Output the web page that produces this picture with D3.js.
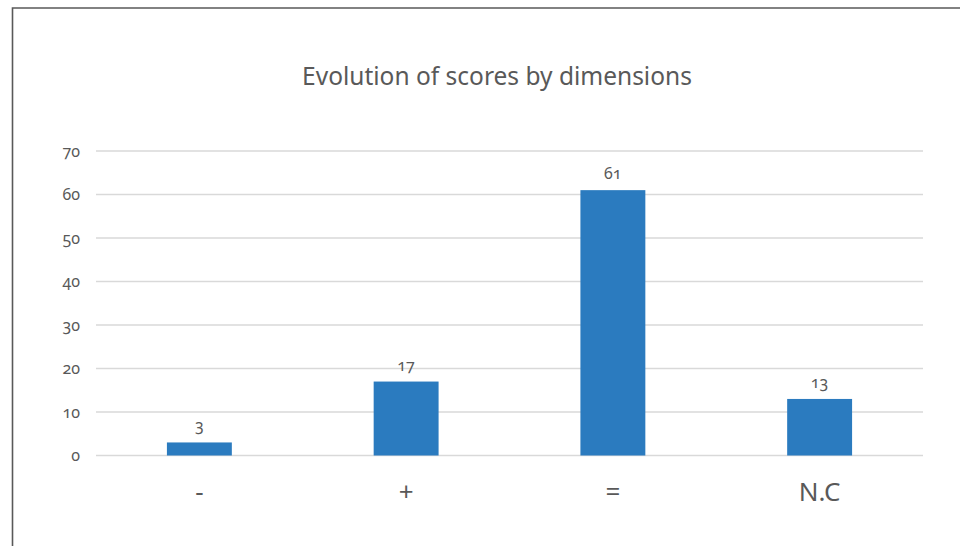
<!DOCTYPE html>
<html>
<head>
<meta charset="utf-8">
<script src="https://cdn.jsdelivr.net/npm/d3@7"></script>
<style>
  html, body { margin: 0; padding: 0; background: #fff; }
  svg { display: block; }
  text { font-family: "Noto Sans", "Open Sans", sans-serif; fill: #595959; }
  .num { font-feature-settings: "onum" 1; font-variant-numeric: oldstyle-nums; }
</style>
</head>
<body>
<svg id="chart" width="960" height="546"></svg>
<script>
// Chart data
const categories = ["-", "+", "=", "N.C"];
const counts = [3, 17, 61, 13];
const yTicks = [0, 10, 20, 30, 40, 50, 60, 70];
const chartTitle = "Evolution of scores by dimensions";

const svg = d3.select("#chart");
const W = 960, H = 546;
const plot = { left: 96, right: 923, top: 151, bottom: 455.5 };

// Outer frame (left and top edges visible inside the viewport)
svg.append("path")
  .attr("d", `M12.5,${H + 2} L12.5,8 L${W + 2},8`)
  .attr("fill", "none")
  .attr("stroke", "#595959")
  .attr("stroke-width", 1.6);

const x = d3.scaleBand()
  .domain(categories)
  .range([plot.left, plot.right])
  .paddingInner(0.686)
  .paddingOuter(0.343);

const y = d3.scaleLinear()
  .domain([0, 70])
  .range([plot.bottom, plot.top]);

// Horizontal gridlines
svg.append("g")
  .selectAll("line")
  .data(yTicks)
  .join("line")
  .attr("x1", plot.left)
  .attr("x2", plot.right)
  .attr("y1", d => y(d))
  .attr("y2", d => y(d))
  .attr("stroke", "#d9d9d9")
  .attr("stroke-width", 1.3);

// Y axis labels
const yAxis = d3.axisLeft(y).tickValues(yTicks).tickSize(0).tickPadding(0);
const yg = svg.append("g")
  .attr("transform", `translate(80,0)`)
  .call(yAxis);
yg.select(".domain").remove();
yg.selectAll("text")
  .attr("class", "num")
  .attr("font-size", 16)
  .style("font-family", '"Noto Sans", sans-serif')
  .attr("fill", "#6b6b6b");

// Bars
svg.append("g")
  .selectAll("rect")
  .data(categories.map((c, i) => ({ c, v: counts[i] })))
  .join("rect")
  .attr("x", d => x(d.c))
  .attr("width", x.bandwidth())
  .attr("y", d => y(d.v))
  .attr("height", d => y(0) - y(d.v))
  .attr("fill", "#2b7bbf");

// Value labels above bars
svg.append("g")
  .selectAll("text")
  .data(categories.map((c, i) => ({ c, v: counts[i] })))
  .join("text")
  .attr("class", "num")
  .attr("x", d => x(d.c) + x.bandwidth() / 2)
  .attr("y", d => y(d.v) - 11)
  .attr("text-anchor", "middle")
  .attr("font-size", 16)
  .attr("fill", "#595959")
  .text(d => d.v);

// Category labels
const xAxis = d3.axisBottom(x).tickSize(0).tickPadding(0);
const xg = svg.append("g")
  .attr("transform", `translate(0,${plot.bottom})`)
  .call(xAxis);
xg.select(".domain").remove();
xg.selectAll("text")
  .attr("dy", null)
  .attr("y", 45)
  .attr("font-size", 26)
  .style("font-family", '"Noto Sans", sans-serif')
  .attr("fill", "#595959");

// Title
svg.append("text")
  .attr("x", 497)
  .attr("y", 85)
  .attr("text-anchor", "middle")
  .attr("font-size", 24.5)
  .text(chartTitle);
</script>
</body>
</html>
